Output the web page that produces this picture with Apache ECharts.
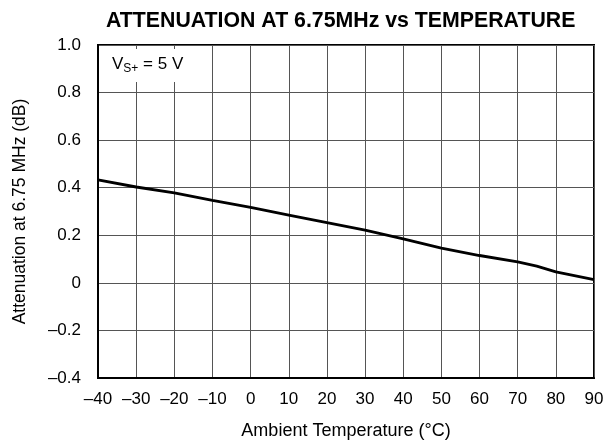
<!DOCTYPE html>
<html>
<head>
<meta charset="utf-8">
<script src="https://cdn.jsdelivr.net/npm/echarts@6/dist/echarts.min.js"></script>
<style>html,body{margin:0;padding:0;background:#fff;}#c{width:613px;height:445px;}</style>
</head>
<body>
<div id="c"></div>
<script>
var temperature = [-40, -30, -20, -10, 0, 10, 20, 30, 40, 50, 60, 70, 75, 80, 90];
var attenuation = [0.433, 0.403, 0.378, 0.347, 0.317, 0.285, 0.253, 0.222, 0.185, 0.146, 0.115, 0.088, 0.070, 0.046, 0.014];
var xTickLabels = ['–40','–30','–20','–10','0','10','20','30','40','50','60','70','80','90'];
var yTickLabels = ['–0.4','–0.2','0','0.2','0.4','0.6','0.8','1.0'];

var chart = echarts.init(document.getElementById('c'));
var font = 'Liberation Sans, Arial, sans-serif';
chart.setOption({
  animation: false,
  backgroundColor: '#fff',
  title: {
    text: 'ATTENUATION AT 6.75MHz vs TEMPERATURE',
    left: 101, top: 6,
    textStyle: {fontFamily: font, fontWeight: 'bold', fontSize: 21.3, color: '#000'}
  },
  grid: {left: 98, right: 19, top: 45, bottom: 64, show: true, borderColor: '#000', borderWidth: 2, containLabel: false},
  xAxis: {
    type: 'value', min: -40, max: 90, interval: 10,
    name: 'Ambient Temperature (°C)', nameLocation: 'middle', nameGap: 44,
    nameTextStyle: {fontFamily: font, fontSize: 18, color: '#000'},
    axisLine: {show: true, onZero: false, lineStyle: {color: '#000', width: 2}},
    axisTick: {show: false},
    axisLabel: {
      fontFamily: font, fontSize: 17, color: '#000', margin: 13,
      formatter: function (v) { return xTickLabels[Math.round((v + 40) / 10)]; }
    },
    splitLine: {show: true, lineStyle: {color: '#555', width: 1}}
  },
  yAxis: {
    type: 'value', min: -0.4, max: 1.0, interval: 0.2,
    name: 'Attenuation at 6.75 MHz (dB)', nameLocation: 'middle', nameGap: 69, nameRotate: 90,
    nameTextStyle: {fontFamily: font, fontSize: 17.5, color: '#000'},
    axisLine: {show: true, onZero: false, lineStyle: {color: '#000', width: 2}},
    axisTick: {show: false},
    axisLabel: {
      fontFamily: font, fontSize: 17, color: '#000', margin: 17,
      formatter: function (v) { return yTickLabels[Math.round((v + 0.4) / 0.2)]; }
    },
    splitLine: {show: true, lineStyle: {color: '#555', width: 1}}
  },
  graphic: [{
    type: 'text', left: 104, top: 49, z: 10,
    style: {
      rich: {
        n: {fontFamily: font, fontSize: 17, fill: '#000'},
        s: {fontFamily: font, fontSize: 12, fill: '#000', verticalAlign: 'bottom', padding: [9, 0, 0, 0]}
      },
      text: '{n|V}{s|S+}{n| = 5 V}',
      backgroundColor: '#fff',
      padding: [5, 8, 7, 8]
    }
  }],
  series: [{
    type: 'line',
    data: temperature.map(function (t, i) { return [t, attenuation[i]]; }),
    showSymbol: false,
    lineStyle: {color: '#000', width: 2.8},
    z: 5
  }]
});
</script>
</body>
</html>
